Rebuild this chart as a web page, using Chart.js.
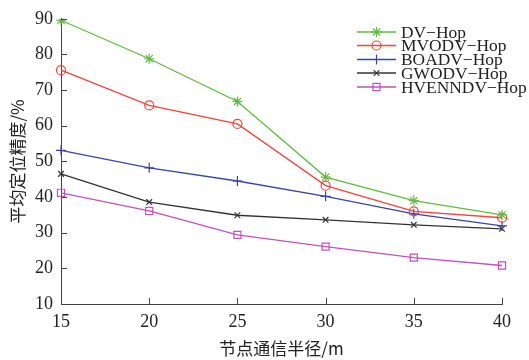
<html>
  <head>
    <title>节点通信半径与平均定位精度</title>
    <script src="https://cdn.jsdelivr.net/npm/chart.js"></script>
    <style>
      body { margin: 0; background: #fff; }
      #wrap { width: 529px; height: 360px; }
    </style>
  </head>
  <body>
    <div id="wrap">
      <canvas id="accChart" width="529" height="360"></canvas>
    </div>

    <script>
      const radii = [15, 20, 25, 30, 35, 40];
      const yTicks = [10, 20, 30, 40, 50, 60, 70, 80, 90];

      const dvHop     = [89.6, 78.8, 66.8, 45.6, 39.0, 35.0];
      const mvodvHop  = [75.6, 65.7, 60.5, 43.2, 36.0, 34.2];
      const boadvHop  = [53.1, 48.2, 44.5, 40.2, 35.3, 31.9];
      const gwodvHop  = [46.5, 38.6, 34.9, 33.6, 32.2, 31.1];
      const hvenndvHop = [41.2, 36.1, 29.4, 26.1, 23.0, 20.8];

      const serif = '"Liberation Serif", "Times New Roman", serif';
      const cjk = '"Noto Sans CJK SC", "Liberation Serif", sans-serif';
      const axisColor = '#444';

      function series(label, data, color, style, radius) {
        return {
          label: label,
          data: data,
          borderColor: color,
          backgroundColor: color,
          borderWidth: 1.3,
          pointStyle: style,
          pointRadius: radius,
          pointBorderColor: color,
          pointBackgroundColor: 'rgba(0,0,0,0)',
          pointBorderWidth: 1.2,
          tension: 0,
          fill: false
        };
      }

      // small ticks pointing into the plot, like the original figure
      const innerTicks = {
        id: 'innerTicks',
        afterDraw(chart) {
          const c = chart.ctx;
          const xs = chart.scales.x, ys = chart.scales.y;
          const area = chart.chartArea;
          c.save();
          c.strokeStyle = axisColor;
          c.lineWidth = 1;
          c.beginPath();
          yTicks.forEach(v => {
            const py = Math.round(ys.getPixelForValue(v)) + 0.5;
            c.moveTo(area.left, py);
            c.lineTo(area.left + 6, py);
          });
          radii.forEach((r, i) => {
            const px = Math.round(xs.getPixelForValue(i)) + 0.5;
            c.moveTo(px, area.bottom);
            c.lineTo(px, area.bottom - 6);
          });
          c.stroke();
          c.restore();
        }
      };

      // legend: short line with the marker in the middle
      const lineLegend = {
        id: 'lineLegend',
        afterDraw(chart) {
          const c = chart.ctx;
          const x0 = 357, x1 = 396, tx = 401;
          const rows = [32, 45.5, 59.5, 73, 87];
          c.save();
          c.font = '17.4px ' + serif;
          c.textBaseline = 'middle';
          c.textAlign = 'left';
          chart.data.datasets.forEach((ds, i) => {
            const y = rows[i];
            c.strokeStyle = ds.borderColor;
            c.lineWidth = ds.borderWidth;
            c.beginPath();
            c.moveTo(x0, y);
            c.lineTo(x1, y);
            c.stroke();
            c.fillStyle = 'rgba(0,0,0,0)';
            c.lineWidth = ds.pointBorderWidth;
            Chart.helpers.drawPoint(c, {
              pointStyle: ds.pointStyle,
              rotation: 0,
              radius: ds.pointRadius,
              borderWidth: ds.pointBorderWidth
            }, (x0 + x1) / 2, y);
            c.fillStyle = '#222';
            c.fillText(ds.label, tx, y + 1);
          });
          c.restore();
        }
      };

      new Chart(document.getElementById('accChart'), {
        type: 'line',
        data: {
          labels: radii,
          datasets: [
            series('DV\u2212Hop', dvHop, '#5fbd3e', 'star', 5),
            series('MVODV\u2212Hop', mvodvHop, '#f2453b', 'circle', 4.5),
            series('BOADV\u2212Hop', boadvHop, '#3a44a6', 'cross', 5),
            series('GWODV\u2212Hop', gwodvHop, '#333333', 'crossRot', 4),
            series('HVENNDV\u2212Hop', hvenndvHop, '#c152be', 'rect', 5)
          ]
        },
        options: {
          responsive: false,
          animation: false,
          layout: { padding: { top: 16, right: 27, left: 0, bottom: 0 } },
          plugins: {
            legend: { display: false },
            tooltip: { enabled: false }
          },
          scales: {
            x: {
              grid: { display: false, drawTicks: false },
              border: { display: true, color: axisColor, width: 1 },
              ticks: { color: '#222', font: { family: serif, size: 18 }, padding: 7, maxRotation: 0 },
              title: {
                display: true,
                text: '节点通信半径/m',
                color: '#222',
                font: { family: cjk, size: 17 },
                padding: { top: 0, bottom: 1 }
              },
              afterFit(scale) { scale.height = 56; }
            },
            y: {
              min: 10,
              max: 90,
              grid: { display: false, drawTicks: false },
              border: { display: true, color: axisColor, width: 1 },
              ticks: { stepSize: 10, color: '#222', font: { family: serif, size: 18 }, padding: 8 },
              title: {
                display: true,
                text: '平均定位精度/%',
                color: '#222',
                font: { family: cjk, size: 17 },
                padding: { top: 7, bottom: 0 }
              },
              afterFit(scale) { scale.width = 61; }
            }
          }
        },
        plugins: [innerTicks, lineLegend]
      });
    </script>
  </body>
</html>
